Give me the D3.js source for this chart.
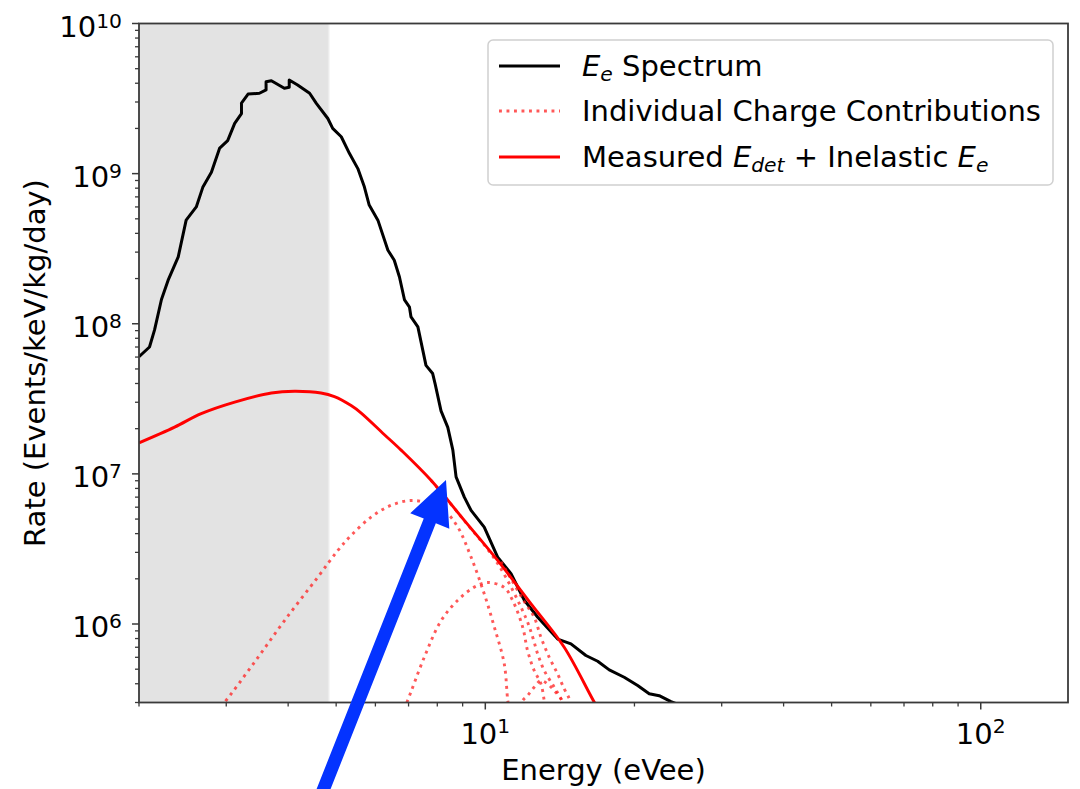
<!DOCTYPE html>
<html>
<head>
<meta charset="utf-8">
<script src="https://cdn.jsdelivr.net/npm/d3@7"></script>
<style>
  html, body { margin: 0; padding: 0; background: #ffffff; }
  svg { display: block; font-family: "DejaVu Sans", sans-serif; }
</style>
</head>
<body>
<svg id="chart" width="1080" height="789"></svg>
<script>
// ---- data: energy (eVee) vs rate (events/keV/kg/day) ----

// Electron-equivalent energy spectrum
const spectrumE = [2.0, 2.10, 2.15, 2.22, 2.29, 2.40, 2.49, 2.61, 2.69, 2.80, 2.91, 3.02, 3.12, 3.22, 3.22, 3.32, 3.50, 3.61, 3.61, 3.70, 3.93, 4.02, 4.02, 4.18, 4.42, 4.56, 4.81, 4.92, 5.12, 5.32, 5.53, 5.70, 5.83, 6.07, 6.36, 6.55, 6.71, 6.87, 7.03, 7.08, 7.31, 7.48, 7.59, 7.83, 7.92, 8.14, 8.40, 8.60, 8.73, 9.07, 9.36, 9.95, 10.59, 11.27, 11.99, 12.76, 14.0, 14.89, 15.96, 16.86, 17.79, 19.07, 20.3, 21.42, 22.44, 23.7, 26.0];
const spectrumRate = [6.03e7, 7.0e7, 9.1e7, 1.45e8, 1.95e8, 2.79e8, 4.9e8, 6.0e8, 8.1e8, 1.02e9, 1.48e9, 1.66e9, 2.16e9, 2.51e9, 2.95e9, 3.39e9, 3.43e9, 3.61e9, 4.09e9, 4.16e9, 3.70e9, 3.76e9, 4.20e9, 3.89e9, 3.43e9, 2.94e9, 2.33e9, 2.0e9, 1.76e9, 1.36e9, 1.08e9, 8.17e8, 6.17e8, 4.9e8, 3.09e8, 2.65e8, 2.05e8, 1.44e8, 1.29e8, 1.11e8, 9.53e7, 6.65e7, 5.28e7, 4.66e7, 3.98e7, 2.63e7, 2.04e7, 1.44e7, 9.55e6, 7.0e6, 5.71e6, 4.42e6, 2.79e6, 2.16e6, 1.44e6, 1.11e6, 7.94e5, 7.38e5, 6.17e5, 5.65e5, 4.95e5, 4.42e5, 3.89e5, 3.43e5, 3.33e5, 3.04e5, 2.7e5];

// Measured E_det + inelastic E_e
const measuredE = [2.0, 2.36, 2.67, 3.12, 3.70, 4.12, 4.66, 4.96, 5.36, 5.61, 6.25, 6.76, 7.77, 9.07, 10.59, 12.37, 14.43, 16.6, 17.2];
const measuredRate = [1.61e7, 2.05e7, 2.52e7, 3.01e7, 3.46e7, 3.55e7, 3.46e7, 3.27e7, 2.85e7, 2.55e7, 1.83e7, 1.44e7, 9.06e6, 4.9e6, 2.65e6, 1.36e6, 7.0e5, 3.01e5, 2.5e5];

// Individual charge contributions
const chargeE = [
  [2.85, 2.975, 3.42, 3.93, 4.59, 5.04, 5.36, 5.88, 6.45, 7.08, 7.77, 8.27, 8.80, 9.36, 9.95, 10.43, 10.92, 11.10, 11.2],
  [6.85, 6.97, 7.53, 8.14, 8.80, 9.50, 10.11, 10.92, 11.35, 11.90, 12.17, 12.55, 12.95, 13.15, 13.25],
  [7.77, 9.07, 10.59, 12.07, 12.46, 12.76, 13.15, 13.78, 14.21, 14.4],
  [10.76, 11.27, 12.0, 12.55, 12.95, 13.46, 13.99, 14.43, 14.78, 14.95],
  [11.75, 11.9, 12.17, 12.55, 12.95, 13.36, 13.78, 14.21, 14.4]
];
const chargeRate = [
  [2.6e5, 3.01e5, 5.56e5, 1.05e6, 2.05e6, 3.09e6, 3.89e6, 5.15e6, 6.17e6, 6.65e6, 6.32e6, 5.71e6, 4.42e6, 2.79e6, 1.59e6, 9.53e5, 5.43e5, 3.09e5, 2.6e5],
  [2.7e5, 3.09e5, 6.0e5, 1.05e6, 1.44e6, 1.76e6, 1.89e6, 1.75e6, 1.44e6, 9.5e5, 6.65e5, 4.9e5, 4.0e5, 3.09e5, 2.7e5],
  [9.06e6, 4.88e6, 2.53e6, 1.1e6, 8.2e5, 6.3e5, 4.9e5, 3.79e5, 3.18e5, 2.8e5],
  [2.6e6, 2.0e6, 1.4e6, 1.11e6, 8.17e5, 6.0e5, 4.66e5, 3.7e5, 3.17e5, 2.8e5],
  [2.8e5, 3.1e5, 3.34e5, 3.79e5, 4.2e5, 3.99e5, 3.6e5, 3.18e5, 2.9e5]
];

// Axis ranges and tick labels
const xDomain = [2.0, 150];
const yDomain = [3e5, 1e10];
const xMajorTicks = [10, 100];
const xTickExponents = ["1", "2"];
const yMajorTicks = [1e6, 1e7, 1e8, 1e9, 1e10];
const yTickExponents = ["6", "7", "8", "9", "10"];
const thresholdE = 4.83;            // shaded region below this energy
const arrowTip = [8.33, 9.1e6];     // annotation arrow head (data coords)
const arrowTail = [4.62, 6.7e4];

const legendLabels = ["Spectrum", "Individual Charge Contributions", "Measured"];

// ---- layout ----
const svg = d3.select("#chart");
const mLeft = 139, mRight = 1068, mTop = 23.5, mBottom = 702.5;

const x = d3.scaleLog().domain(xDomain).range([mLeft, mRight]);
const y = d3.scaleLog().domain(yDomain).range([mBottom, mTop]);

const FS = 29;
const axisColor = "#3a3a3a";

svg.append("defs").append("clipPath").attr("id", "plotclip")
  .append("rect").attr("x", mLeft).attr("y", mTop)
  .attr("width", mRight - mLeft).attr("height", mBottom - mTop);

// shaded threshold region
svg.append("rect")
  .attr("x", x(xDomain[0])).attr("y", mTop)
  .attr("width", x(thresholdE) - x(xDomain[0]))
  .attr("height", mBottom - mTop)
  .attr("fill", "#e3e3e3");
svg.append("line")
  .attr("x1", x(thresholdE)).attr("x2", x(thresholdE))
  .attr("y1", mTop).attr("y2", mBottom)
  .attr("stroke", "#ececec").attr("stroke-width", 1.5);

const plot = svg.append("g").attr("clip-path", "url(#plotclip)");

const lineLin = d3.line().x(d => x(d[0])).y(d => y(d[1]));
const lineSmooth = d3.line().x(d => x(d[0])).y(d => y(d[1])).curve(d3.curveCatmullRom.alpha(0.5));

// spectrum (black)
plot.append("path")
  .datum(spectrumE.map((e, i) => [e, spectrumRate[i]]))
  .attr("d", lineLin)
  .attr("fill", "none").attr("stroke", "#000").attr("stroke-width", 3)
  .attr("stroke-linejoin", "round");

// charge contributions (dotted red)
chargeE.forEach((es, k) => {
  plot.append("path")
    .datum(es.map((e, i) => [e, chargeRate[k][i]]))
    .attr("d", lineSmooth)
    .attr("fill", "none").attr("stroke", "#ff2020").attr("stroke-opacity", 0.75)
    .attr("stroke-width", 2.9).attr("stroke-dasharray", "2.9 4.6");
});

// measured + inelastic (solid red)
plot.append("path")
  .datum(measuredE.map((e, i) => [e, measuredRate[i]]))
  .attr("d", lineSmooth)
  .attr("fill", "none").attr("stroke", "#ff0000").attr("stroke-width", 2.9);

// ---- axes ----
const frame = svg.append("g");
frame.append("rect")
  .attr("x", mLeft).attr("y", mTop).attr("width", mRight - mLeft).attr("height", mBottom - mTop)
  .attr("fill", "none").attr("stroke", axisColor).attr("stroke-width", 1.8);

// x ticks
const xMinor = [];
for (let dec = 1; dec <= 100; dec *= 10)
  for (let m = 1; m <= 9; m++) {
    const v = m * dec;
    if (v >= xDomain[0] - 1e-9 && v <= xDomain[1] && !xMajorTicks.includes(v)) xMinor.push(v);
  }
frame.selectAll(".xminor").data(xMinor).join("line")
  .attr("x1", d => x(d)).attr("x2", d => x(d))
  .attr("y1", mBottom).attr("y2", mBottom + 4)
  .attr("stroke", axisColor).attr("stroke-width", 1.3);
frame.selectAll(".xmajor").data(xMajorTicks).join("line")
  .attr("x1", d => x(d)).attr("x2", d => x(d))
  .attr("y1", mBottom).attr("y2", mBottom + 7)
  .attr("stroke", axisColor).attr("stroke-width", 1.5);
const xt = frame.selectAll(".xlabel").data(xMajorTicks).join("text")
  .attr("x", d => x(d)).attr("y", mBottom + 41)
  .attr("text-anchor", "middle").attr("font-size", FS).attr("fill", "#000");
xt.append("tspan").text("10");
xt.append("tspan").attr("font-size", FS * 0.7).attr("dy", -11).text((d, i) => xTickExponents[i]);

// y ticks
const yMinor = [];
for (let dec = 1e5; dec < 1e10; dec *= 10)
  for (let m = 2; m <= 9; m++) {
    const v = m * dec;
    if (v >= yDomain[0] && v <= yDomain[1]) yMinor.push(v);
  }
frame.selectAll(".yminor").data(yMinor).join("line")
  .attr("x1", mLeft - 4).attr("x2", mLeft)
  .attr("y1", d => y(d)).attr("y2", d => y(d))
  .attr("stroke", axisColor).attr("stroke-width", 1.3);
frame.selectAll(".ymajor").data(yMajorTicks).join("line")
  .attr("x1", mLeft - 7).attr("x2", mLeft)
  .attr("y1", d => y(d)).attr("y2", d => y(d))
  .attr("stroke", axisColor).attr("stroke-width", 1.5);
const yt = frame.selectAll(".ylabel").data(yMajorTicks).join("text")
  .attr("x", mLeft - 17).attr("y", d => y(d) + 13)
  .attr("text-anchor", "end").attr("font-size", FS).attr("fill", "#000");
yt.append("tspan").text("10");
yt.append("tspan").attr("font-size", FS * 0.7).attr("dy", -9).text((d, i) => yTickExponents[i]);

// axis titles
svg.append("text")
  .attr("x", (mLeft + mRight) / 2).attr("y", 780)
  .attr("text-anchor", "middle").attr("font-size", FS).attr("fill", "#000")
  .text("Energy (eVee)");
svg.append("text")
  .attr("transform", `translate(45,${(mTop + mBottom) / 2}) rotate(-90)`)
  .attr("text-anchor", "middle").attr("font-size", FS).attr("fill", "#000")
  .text("Rate (Events/keV/kg/day)");

// ---- legend ----
const lg = svg.append("g");
lg.append("rect")
  .attr("x", 488).attr("y", 40).attr("width", 565).attr("height", 145)
  .attr("rx", 5).attr("fill", "#fff").attr("fill-opacity", 0.85)
  .attr("stroke", "#d0d0d0").attr("stroke-width", 1.5);
const rows = [66, 111, 157];
lg.append("line").attr("x1", 499).attr("x2", 560).attr("y1", rows[0]).attr("y2", rows[0])
  .attr("stroke", "#000").attr("stroke-width", 3);
lg.append("line").attr("x1", 499).attr("x2", 560).attr("y1", rows[1]).attr("y2", rows[1])
  .attr("stroke", "#ff2020").attr("stroke-opacity", 0.75)
  .attr("stroke-width", 2.9).attr("stroke-dasharray", "2.9 4.6");
lg.append("line").attr("x1", 499).attr("x2", 560).attr("y1", rows[2]).attr("y2", rows[2])
  .attr("stroke", "#ff0000").attr("stroke-width", 2.9);

const t1 = lg.append("text").attr("x", 582).attr("y", rows[0] + 10).attr("font-size", FS);
t1.append("tspan").attr("font-style", "italic").text("E");
t1.append("tspan").attr("font-style", "italic").attr("font-size", FS * 0.7).attr("dy", 5).text("e");
t1.append("tspan").attr("dy", -5).text(" " + legendLabels[0]);

lg.append("text").attr("x", 582).attr("y", rows[1] + 10).attr("font-size", FS).text(legendLabels[1]);

const t3 = lg.append("text").attr("x", 582).attr("y", rows[2] + 10).attr("font-size", FS);
t3.append("tspan").text(legendLabels[2] + " ");
t3.append("tspan").attr("font-style", "italic").text("E");
t3.append("tspan").attr("font-style", "italic").attr("font-size", FS * 0.7).attr("dy", 5).text("det");
t3.append("tspan").attr("dy", -5).text(" + Inelastic ");
t3.append("tspan").attr("font-style", "italic").text("E");
t3.append("tspan").attr("font-style", "italic").attr("font-size", FS * 0.7).attr("dy", 5).text("e");

// ---- annotation arrow ----
const tip = [x(arrowTip[0]), y(arrowTip[1])];
const tail = [x(arrowTail[0]), y(arrowTail[1])];
const dx = tip[0] - tail[0], dy = tip[1] - tail[1];
const len = Math.hypot(dx, dy);
const ux = dx / len, uy = dy / len, px = -uy, py = ux;
const headLen = 44, headHalf = 21, shaftHalf = 6.5;
const bx = tip[0] - ux * headLen, by = tip[1] - uy * headLen;
const arrowPts = [
  [tail[0] + px * shaftHalf, tail[1] + py * shaftHalf],
  [bx + px * shaftHalf, by + py * shaftHalf],
  [bx + px * headHalf, by + py * headHalf],
  tip,
  [bx - px * headHalf, by - py * headHalf],
  [bx - px * shaftHalf, by - py * shaftHalf],
  [tail[0] - px * shaftHalf, tail[1] - py * shaftHalf]
];
svg.append("path")
  .attr("d", "M" + arrowPts.map(p => p.join(",")).join("L") + "Z")
  .attr("fill", "#0433ff");
</script>
</body>
</html>
